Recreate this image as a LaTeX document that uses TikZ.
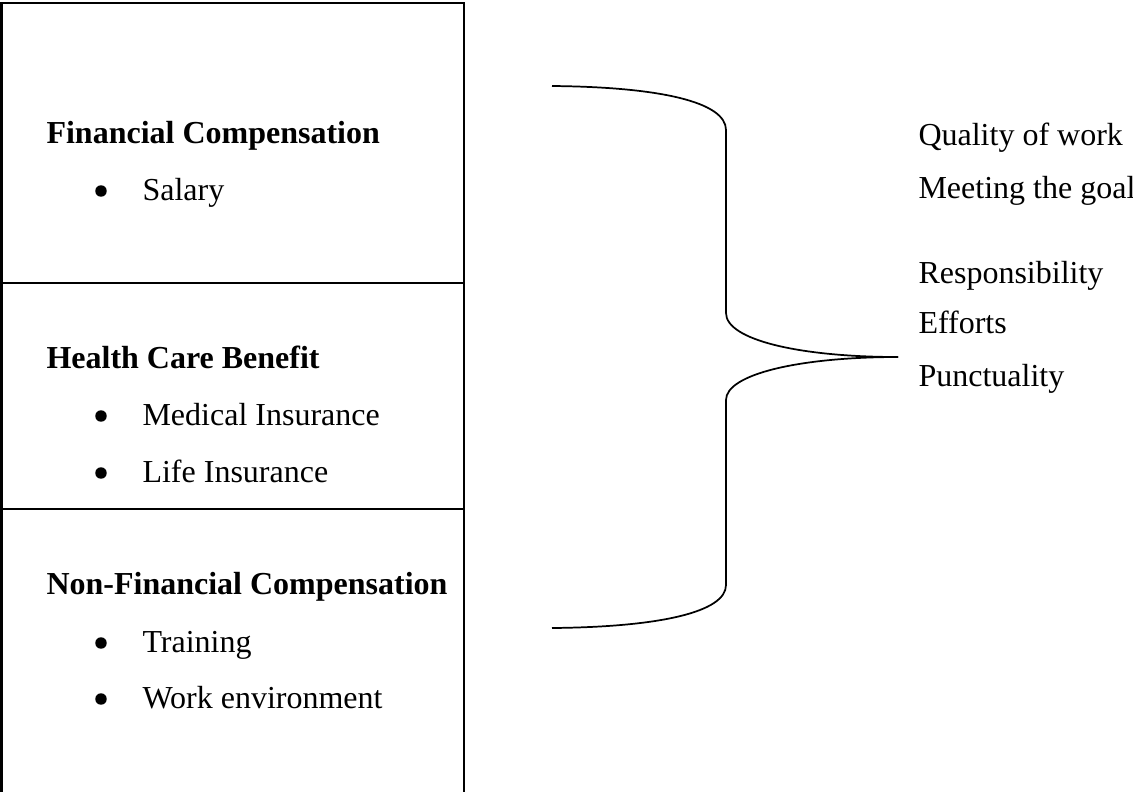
\documentclass[tikz,border=0pt]{standalone}
\usepackage{fontspec}
\setmainfont{Liberation Serif}
\usepackage{tikz}
\usetikzlibrary{arrows,shapes}

\begin{document}
\begin{tikzpicture}[x=0.375pt, y=-0.375pt,
  head/.style={anchor=base west, inner sep=0pt, font=\fontsize{12}{14}\selectfont\bfseries},
  item/.style={anchor=base west, inner sep=0pt, font=\fontsize{12}{14}\selectfont},
  bul/.style={circle, fill, inner sep=0pt, minimum size=4.3pt},
  box/.style={line width=0.9pt},
  brace/.style={line width=0.65pt}]
  \useasboundingbox (0,0) rectangle (1133,791);
  % frame
  \draw[box] (1.5,800) -- (1.5,3) -- (464,3) -- (464,800);
  \draw[box] (1.5,283) -- (464,283);
  \draw[box] (1.5,509) -- (464,509);
  % left column
  \node[head] (fin) at (46,143) {Financial Compensation};
  \node[bul] (b1) at (101,191) {};
  \node[item] (sal) at (142,200) {Salary};
  \node[head] (hlt) at (46,368) {Health Care Benefit};
  \node[bul] (b2) at (101,416) {};
  \node[item] (med) at (142,425) {Medical Insurance};
  \node[bul] (b3) at (101,473) {};
  \node[item] (lif) at (142,482) {Life Insurance};
  \node[head] (nfc) at (46,594) {Non-Financial Compensation};
  \node[bul] (b4) at (101,643) {};
  \node[item] (trn) at (142,652) {Training};
  \node[bul] (b5) at (101,699) {};
  \node[item] (wrk) at (142,708) {Work environment};
  % right column
  \node[item] (qua) at (918,145) {Quality of work};
  \node[item] (mee) at (918,198) {Meeting the goal};
  \node[item] (res) at (918,283) {Responsibility};
  \node[item] (eff) at (918,333) {Efforts};
  \node[item] (pun) at (918,386) {Punctuality};
  % brace
  \coordinate (top) at (552,86);
  \coordinate (tip) at (898,357);
  \coordinate (bot) at (552,628);
  \draw[brace] (top) .. controls (660,87) and (726,102) .. (726,130)
    -- (726,313) .. controls (726,340) and (800,357) .. (tip);
  \draw[brace] (tip) .. controls (800,357) and (726,374) .. (726,400)
    -- (726,585) .. controls (726,612) and (660,627) .. (bot);
\end{tikzpicture}
\end{document}
